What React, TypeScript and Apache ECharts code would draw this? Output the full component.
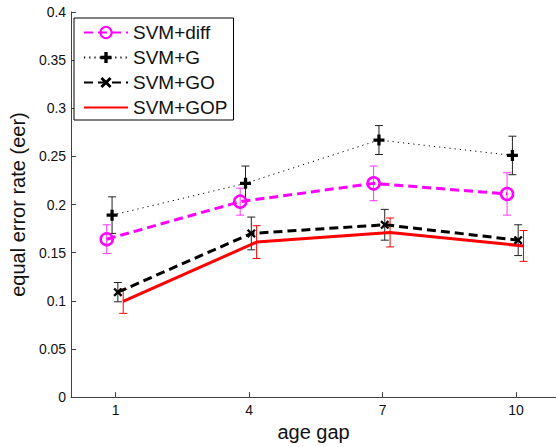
import React, { useEffect, useRef } from "react";
import * as echarts from "echarts";

const ageGaps = [1, 4, 7, 10];
const seriesNames = ["SVM+diff", "SVM+G", "SVM+GO", "SVM+GOP"];
// horizontal jitter of each method around the age gap (as in the figure)
const xOffsets = [-0.2, -0.08, 0.05, 0.17];

const diffMean = [0.164, 0.203, 0.222, 0.211];
const diffErr = [0.015, 0.014, 0.018, 0.022];
const gMean = [0.189, 0.222, 0.267, 0.251];
const gErr = [0.019, 0.018, 0.015, 0.02];
const goMean = [0.109, 0.17, 0.179, 0.163];
const goErr = [0.01, 0.017, 0.016, 0.016];
const gopMean = [0.0995, 0.161, 0.171, 0.157];
const gopErr = [0.0125, 0.017, 0.015, 0.016];

const yTicks = [0, 0.05, 0.1, 0.15, 0.2, 0.25, 0.3, 0.35, 0.4];

const FONT = "Liberation Sans, Arial, sans-serif";

const plusPath =
  "path://M3.5,0H6.5V3.5H10V6.5H6.5V10H3.5V6.5H0V3.5H3.5Z";
const crossPath =
  "path://M0,1.8L1.8,0L5,3.2L8.2,0L10,1.8L6.8,5L10,8.2L8.2,10L5,6.8L1.8,10L0,8.2L3.2,5Z";

function pts(means: number[], k: number) {
  return means.map((m, i) => [ageGaps[i] + xOffsets[k], m]);
}
function errs(means: number[], e: number[], k: number) {
  return means.map((m, i) => [ageGaps[i] + xOffsets[k], m - e[i], m + e[i]]);
}

function errSeries(name: string, data: number[][], color: string) {
  return {
    type: "custom",
    name,
    data,
    encode: { x: 0, y: [1, 2] },
    renderItem: (_p: any, api: any) => {
      const x = api.value(0);
      const top = api.coord([x, api.value(2)]);
      const bot = api.coord([x, api.value(1)]);
      const w = 4;
      const style = { stroke: color, lineWidth: 1 };
      return {
        type: "group",
        children: [
          { type: "line", shape: { x1: top[0], y1: top[1], x2: bot[0], y2: bot[1] }, style },
          { type: "line", shape: { x1: top[0] - w, y1: top[1], x2: top[0] + w, y2: top[1] }, style },
          { type: "line", shape: { x1: bot[0] - w, y1: bot[1], x2: bot[0] + w, y2: bot[1] }, style },
        ],
      };
    },
    silent: true,
  };
}

export default function App() {
  const ref = useRef<HTMLDivElement>(null);
  useEffect(() => {
    if (!ref.current) return;
    const chart = echarts.init(ref.current, null, { renderer: "svg" });
    const option: any = {
      animation: false,
      backgroundColor: "#fff",
      textStyle: { fontFamily: FONT },
      grid: { left: 67, right: 0, top: 12, bottom: 48 },
      legend: {
        data: seriesNames,
        orient: "vertical",
        left: 74,
        top: 18,
        padding: [5, 6, 3, 9],
        itemGap: 6,
        itemWidth: 44,
        itemHeight: 14,
        borderColor: "#000",
        borderWidth: 1,
        backgroundColor: "#fff",
        textStyle: { fontFamily: FONT, fontSize: 19, color: "#111" },
      },
      xAxis: {
        type: "value",
        min: 0,
        max: 10.9,
        name: "age gap",
        nameLocation: "middle",
        nameGap: 24,
        nameTextStyle: { fontFamily: FONT, fontSize: 20, color: "#111" },
        axisLine: { lineStyle: { color: "#404040", width: 1 } },
        axisTick: { inside: true, length: 5, customValues: ageGaps, lineStyle: { color: "#404040" } },
        axisLabel: { customValues: ageGaps, fontFamily: FONT, fontSize: 14, color: "#111", margin: 6 },
        splitLine: { show: false },
      },
      yAxis: {
        type: "value",
        min: 0,
        max: 0.4,
        interval: 0.05,
        name: "equal error rate (eer)",
        nameLocation: "middle",
        nameGap: 40,
        nameTextStyle: { fontFamily: FONT, fontSize: 20, color: "#111" },
        axisLine: { show: true, lineStyle: { color: "#404040", width: 1 } },
        axisTick: { show: true, inside: true, length: 5, lineStyle: { color: "#404040" } },
        axisLabel: {
          fontFamily: FONT,
          fontSize: 14,
          color: "#111",
          margin: 5,
          formatter: (v: number) => {
            const t = yTicks.find((y) => Math.abs(y - v) < 1e-9);
            return String(t !== undefined ? t : v);
          },
        },
        splitLine: { show: false },
      },
      series: [
        errSeries("err-diff", errs(diffMean, diffErr, 0), "#ff33ff"),
        {
          type: "line",
          name: "SVM+diff",
          data: pts(diffMean, 0),
          symbol: "circle",
          symbolSize: 12,
          showSymbol: true,
          itemStyle: { color: "rgba(0,0,0,0)", borderColor: "#ff00ff", borderWidth: 2.5 },
          lineStyle: { color: "#ff00ff", width: 3, type: [9, 5] },
        },
        errSeries("err-g", errs(gMean, gErr, 1), "#222"),
        {
          type: "line",
          name: "SVM+G",
          data: pts(gMean, 1),
          symbol: plusPath,
          symbolSize: 11,
          itemStyle: { color: "#000" },
          lineStyle: { color: "#000", width: 1, type: [1.2, 4] },
        },
        errSeries("err-go", errs(goMean, goErr, 2), "#222"),
        {
          type: "line",
          name: "SVM+GO",
          data: pts(goMean, 2),
          symbol: crossPath,
          symbolSize: 9,
          itemStyle: { color: "#000" },
          lineStyle: { color: "#000", width: 3, type: [9, 5] },
        },
        errSeries("err-gop", errs(gopMean, gopErr, 3), "#ff0000"),
        {
          type: "line",
          name: "SVM+GOP",
          data: pts(gopMean, 3),
          symbol: "circle",
          symbolSize: 0,
          showSymbol: false,
          itemStyle: { color: "rgba(0,0,0,0)", borderWidth: 0 },
          lineStyle: { color: "#ff0000", width: 3 },
        },
      ],
    };
    chart.setOption(option);
    return () => chart.dispose();
  }, []);
  return (
    <div
      ref={ref}
      style={{ position: "fixed", left: 0, top: 0, width: 556, height: 447 }}
    />
  );
}
